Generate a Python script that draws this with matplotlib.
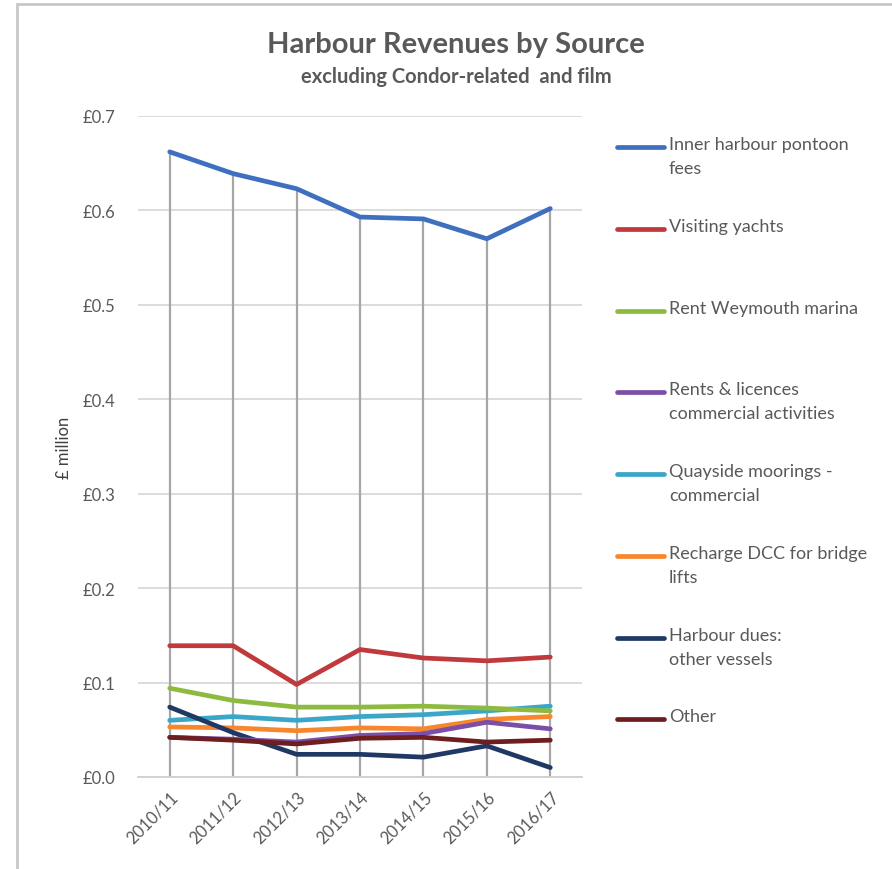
import matplotlib
matplotlib.use("Agg")
import matplotlib.pyplot as plt
from matplotlib.lines import Line2D
from matplotlib.patches import Rectangle

plt.rcParams['font.family'] = ['Lato', 'DejaVu Sans']

years = ["2010/11", "2011/12", "2012/13", "2013/14", "2014/15", "2015/16", "2016/17"]

inner_pontoon = [0.662, 0.639, 0.623, 0.593, 0.591, 0.570, 0.602]
visiting_yachts = [0.139, 0.139, 0.098, 0.135, 0.126, 0.123, 0.127]
rent_weymouth = [0.094, 0.081, 0.074, 0.074, 0.075, 0.073, 0.070]
rents_licences = [0.042, 0.040, 0.037, 0.044, 0.046, 0.058, 0.051]
quayside = [0.060, 0.064, 0.060, 0.064, 0.066, 0.070, 0.075]
recharge_dcc = [0.053, 0.052, 0.049, 0.052, 0.051, 0.061, 0.064]
harbour_dues = [0.074, 0.047, 0.024, 0.024, 0.021, 0.033, 0.010]
other = [0.042, 0.039, 0.035, 0.041, 0.042, 0.037, 0.039]

labels = ["Inner harbour pontoon\nfees", "Visiting yachts", "Rent Weymouth marina",
          "Rents & licences\ncommercial activities", "Quayside moorings -\ncommercial",
          "Recharge DCC for bridge\nlifts", "Harbour dues:\nother vessels", "Other"]
series = [inner_pontoon, visiting_yachts, rent_weymouth, rents_licences,
          quayside, recharge_dcc, harbour_dues, other]
colors = ["#3F6FBF", "#C0393C", "#8DBB40", "#7B4FA8", "#3AA6C8", "#F7862C", "#1F3864", "#6E1E1E"]

fig = plt.figure(figsize=(8.92, 8.7), dpi=100)
W, H = 892, 870

def fx(px):
    return px / W

def fy(py):
    return 1 - py / H

ax = fig.add_axes([fx(138), fy(778), fx(582) - fx(138), fy(117) - fy(778)])
x = list(range(len(years)))

# drop lines from the highest series down to the axis
tops = [max(vals) for vals in zip(*series)]
ax.vlines(x, 0, tops, color="#A6A6A6", lw=1.6, zorder=1)

zorders = [5, 5, 5, 4.5, 4, 4, 4, 4.6]
for vals, c, z in zip(series, colors, zorders):
    ax.plot(x, vals, color=c, lw=3.4, solid_capstyle="round", solid_joinstyle="round", zorder=z)

ax.set_xlim(-0.5, 6.5)
ax.set_ylim(0, 0.7)
ax.set_yticks([i / 10 for i in range(8)])
ax.set_yticklabels([f"£{i/10:.1f}" for i in range(8)])
ax.set_xticks(x)
ax.set_xticklabels(years, rotation=45, ha="right", rotation_mode="anchor")
ax.grid(axis="y", color="#D9D9D9", lw=1.3)
ax.set_axisbelow(True)
for s in ["top", "right", "left"]:
    ax.spines[s].set_visible(False)
ax.spines["bottom"].set_color("#D0D0D0")
ax.spines["bottom"].set_linewidth(1.3)
ax.tick_params(axis="y", length=0, pad=16, labelsize=12, labelcolor="#595959")
ax.tick_params(axis="x", length=0, pad=8, labelsize=12, labelcolor="#595959")
ax.set_ylabel("£ million", fontsize=12, color="#404040", labelpad=8)

# titles
fig.text(fx(456), fy(45), "Harbour Revenues by Source", ha="center", va="center",
         fontsize=21, fontweight="bold", color="#595959")
fig.text(fx(456), fy(77), "excluding Condor-related  and film", ha="center", va="center",
         fontsize=14.5, fontweight="bold", color="#595959")

# legend
legend_y = [148, 230, 312, 393, 475, 557, 639, 720]
for lab, c, yy in zip(labels, colors, legend_y):
    fig.add_artist(Line2D([fx(617), fx(664)], [fy(yy), fy(yy)], color=c, lw=3.4,
                          solid_capstyle="round", transform=fig.transFigure))
    fig.text(fx(669), fy(yy - 11), lab, ha="left", va="top", fontsize=13,
             color="#595959", linespacing=1.65)

# chart frame
fig.add_artist(Rectangle((fx(17), fy(900)), fx(1000), fy(5) - fy(900), fill=False,
                         ec="#C8C8C8", lw=2, transform=fig.transFigure))

fig.savefig("out.png", dpi=100, facecolor="white")
